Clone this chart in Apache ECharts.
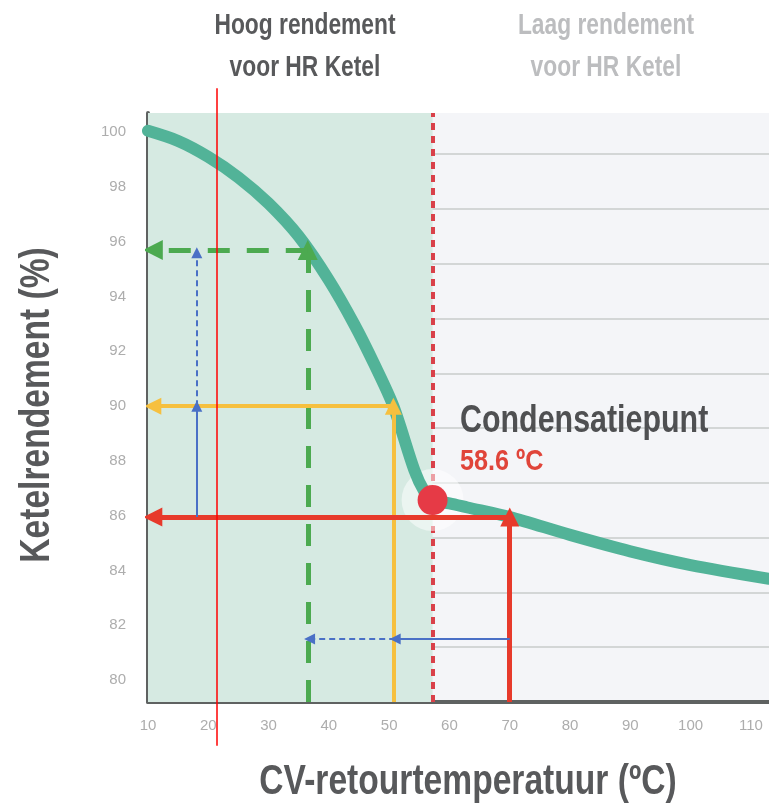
<!DOCTYPE html>
<html>
<head>
<meta charset="utf-8">
<script src="https://cdn.jsdelivr.net/npm/echarts@6/dist/echarts.min.js"></script>
<style>
  html, body { margin: 0; padding: 0; background: #fff; }
  #chart { width: 769px; height: 806px; }
</style>
</head>
<body>
<div id="chart"></div>
<script>
// ketelrendement curve (temperature in C, efficiency in %)
const tempX = [10, 15, 20, 25, 30, 35, 40, 44.3, 47.6, 50.7, 54.2, 55.8, 57.2, 60, 63, 70, 80, 90, 100, 113];
const efficiency = [100.05, 99.68, 99.1, 98.35, 97.4, 96.2, 94.6, 92.95, 91.5, 90.0, 87.65, 86.9, 86.57, 86.45, 86.3, 85.95, 85.3, 84.7, 84.2, 83.7];
const yLabels = [80, 82, 84, 86, 88, 90, 92, 94, 96, 98, 100];

const condensX = 57.2;
const condensY = 86.57;
const condensLabel = '58.6 ºC';

// reading lines: [x1, y1, x2, y2]
const greenArrows = [[36.5, 79.2, 36.5, 95.7], [36.5, 95.7, 10.8, 95.7]];
const yellowArrows = [[50.7, 79.2, 50.7, 90.0], [50.7, 90.0, 10.8, 90.0]];
const redArrows = [[70, 79.2, 70, 85.95], [70, 85.95, 10.8, 85.95]];
const blueSolid = [[18.1, 85.95, 18.1, 90.0], [70, 81.5, 51, 81.5]];
const blueDashed = [[18.1, 90.0, 18.1, 95.6], [51, 81.5, 36.8, 81.5]];
const markerLine = [21.4, 101.6, 21.4, 77.6];

const FONT = "'Liberation Sans', Arial, sans-serif";
const toCoords = list => list.map(a => ({ coords: [[a[0], a[1]], [a[2], a[3]]] }));

function arrowSeries(list, color, width, dash, size, z) {
  return {
    type: 'lines',
    coordinateSystem: 'cartesian2d',
    symbol: ['none', 'triangle'],
    symbolSize: size,
    silent: true,
    z: z,
    lineStyle: { color: color, width: width, type: dash, opacity: 1 },
    data: toCoords(list)
  };
}

// condensed bold text (no condensed font installed, so squeeze horizontally)
function label(text, x, y, size, color, extra) {
  const el = {
    type: 'text', x: x, y: y, z: 20, scaleX: 0.8, silent: true,
    style: { text: text, fill: color, font: 'bold ' + size + 'px ' + FONT,
      align: 'center', verticalAlign: 'middle' }
  };
  if (extra) {
    Object.assign(el.style, extra.style || {});
    if (extra.scaleX) el.scaleX = extra.scaleX;
    if (extra.rotation) el.rotation = extra.rotation;
  }
  return el;
}

const chart = echarts.init(document.getElementById('chart'));
const option = {
  animation: false,
  grid: {
    left: 148, right: 0, top: 113, bottom: 104,
    outerBoundsMode: 'none',
    show: true, backgroundColor: '#f4f5f8', borderWidth: 0
  },
  xAxis: {
    type: 'value',
    min: 10, max: 113, interval: 10,
    axisLine: { lineStyle: { color: '#5f6261', width: 4 } },
    axisTick: { show: false },
    splitLine: { show: false },
    axisLabel: { color: '#adadad', fontSize: 15, margin: 16, showMaxLabel: false, fontFamily: FONT }
  },
  yAxis: {
    type: 'value',
    min: 79.2, max: 100.7, interval: 2,
    axisLine: { show: true, lineStyle: { color: '#5f6261', width: 4 } },
    axisTick: { show: false },
    splitLine: { show: true, showMinLine: false, showMaxLine: false, lineStyle: { color: '#c9cbcb', width: 1.5 } },
    axisLabel: { color: '#adadad', fontSize: 15, margin: 22, customValues: yLabels, fontFamily: FONT }
  },
  graphic: [
    label('Hoog rendement\nvoor HR Ketel', 305, 47, 30, '#58595b', { scaleX: 0.76, style: { lineHeight: 42 } }),
    label('Laag rendement\nvoor HR Ketel', 606, 47, 30, '#bcbdbf', { scaleX: 0.76, style: { lineHeight: 42 } }),
    label('CV-retourtemperatuur (ºC)', 468, 782, 42, '#58595b'),
    label('Ketelrendement (%)', 37, 405, 42, '#58595b', { rotation: Math.PI / 2 }),
    label('Condensatiepunt', 460, 422, 38, '#4f5052', { style: { align: 'left' } }),
    label(condensLabel, 460, 462, 30, '#e0453a', { scaleX: 0.84, style: { align: 'left' } })
  ],
  series: [
    {
      type: 'line',
      data: [],
      silent: true,
      markArea: {
        silent: true,
        itemStyle: { color: '#d6eae2' },
        data: [[{ xAxis: 10 }, { xAxis: condensX }]]
      }
    },
    arrowSeries([[condensX, 79.2, condensX, 100.7]], '#d9414a', 4, [7, 6], 0, 2),
    {
      type: 'scatter',
      silent: true,
      z: 3,
      symbolSize: 62,
      itemStyle: { color: 'rgba(255,255,255,0.5)', opacity: 1 },
      data: [[condensX, condensY]]
    },
    {
      type: 'line',
      silent: true,
      z: 4,
      smooth: 0.3,
      symbol: 'none',
      lineStyle: { color: '#52b398', width: 12, cap: 'round', join: 'round' },
      data: tempX.map((x, i) => [x, efficiency[i]])
    },
    arrowSeries(greenArrows, '#4caa50', 5, [22, 17], 20, 5),
    arrowSeries(yellowArrows, '#f6c03f', 4, 'solid', 17, 5),
    arrowSeries(redArrows, '#e73a2b', 5, 'solid', 19, 5),
    arrowSeries(blueSolid, '#4a70c6', 2, 'solid', 11, 5),
    arrowSeries(blueDashed, '#4a70c6', 2, [6, 4], 11, 5),
    {
      type: 'scatter',
      silent: true,
      z: 7,
      symbolSize: 30,
      itemStyle: { color: '#e63a46', opacity: 1 },
      data: [[condensX, condensY]]
    },
    {
      type: 'lines',
      coordinateSystem: 'cartesian2d',
      clip: false,
      silent: true,
      z: 8,
      symbol: 'none',
      lineStyle: { color: '#ff0000', width: 1.5, opacity: 1 },
      data: toCoords([markerLine])
    }
  ]
};
chart.setOption(option);
</script>
</body>
</html>
